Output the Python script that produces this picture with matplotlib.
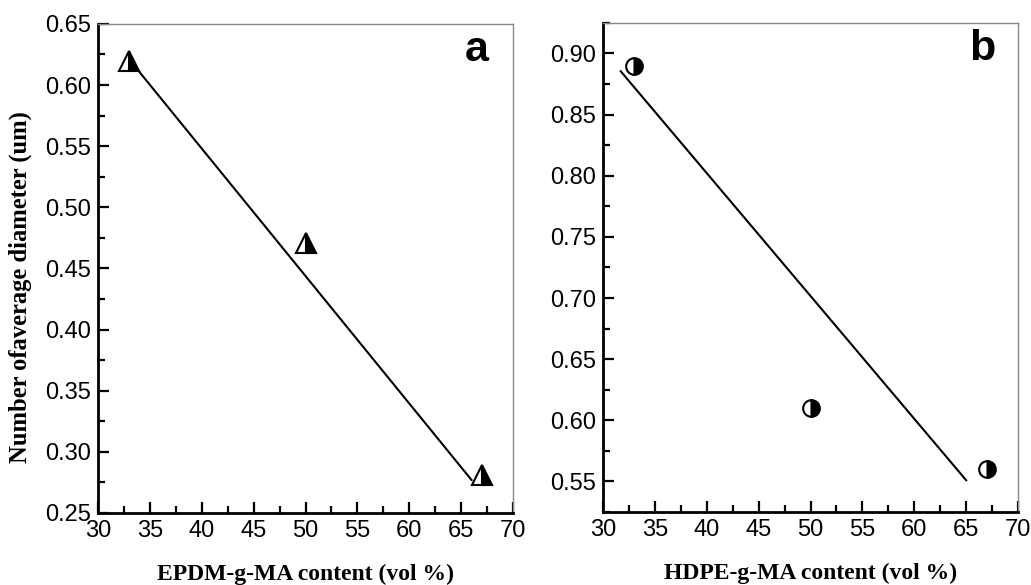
"""Two-panel scatter + fit line: average particle diameter vs compatibilizer content."""

import matplotlib.pyplot as plt
from matplotlib.ticker import MultipleLocator

# Panel a: EPDM-g-MA
epdm_x = [33, 50, 67]
epdm_y = [0.62, 0.471, 0.281]
epdm_fit_x = [33, 66]
epdm_fit_y = [0.621, 0.277]

# Panel b: HDPE-g-MA
hdpe_x = [33, 50, 67]
hdpe_y = [0.89, 0.61, 0.56]
hdpe_fit_x = [31.7, 65]
hdpe_fit_y = [0.8855, 0.551]

tick_font = "Liberation Sans"
label_font = "Liberation Serif"

fig = plt.figure(figsize=(10.31, 5.85), dpi=100)
ax_a = fig.add_axes([0.0951, 0.1231, 0.4025, 0.836])
ax_b = fig.add_axes([0.5849, 0.1248, 0.4025, 0.836])


def style_axes(ax, ylim, letter):
    ax.set_xlim(30, 70)
    ax.set_ylim(*ylim)
    ax.xaxis.set_major_locator(MultipleLocator(5))
    ax.xaxis.set_minor_locator(MultipleLocator(2.5))
    ax.yaxis.set_major_locator(MultipleLocator(0.05))
    ax.yaxis.set_minor_locator(MultipleLocator(0.025))
    ax.tick_params(which="both", direction="in", top=False, right=False,
                   width=1.6, labelsize=17, pad=5)
    ax.tick_params(which="major", length=8)
    ax.tick_params(which="minor", length=5)
    for lbl in ax.get_xticklabels() + ax.get_yticklabels():
        lbl.set_fontfamily(tick_font)
    ax.yaxis.set_major_formatter(plt.FuncFormatter(lambda v, p: f"{v:.2f}"))
    for side in ("left", "bottom"):
        ax.spines[side].set_linewidth(2)
        ax.spines[side].set_color("black")
    for side in ("top", "right"):
        ax.spines[side].set_linewidth(1)
        ax.spines[side].set_color("#888888")
    ax.text(0.913, 0.947, letter, transform=ax.transAxes, ha="center",
            va="center", fontsize=31, fontweight="bold", family=tick_font)


# panel a
ax_a.plot(epdm_fit_x, epdm_fit_y, color="black", lw=1.5)
ax_a.plot(epdm_x, epdm_y, linestyle="none", marker="^", markersize=14,
          fillstyle="right", markerfacecolor="black",
          markerfacecoloralt="white", markeredgecolor="black",
          markeredgewidth=1.5)
style_axes(ax_a, (0.25, 0.65), "a")
ax_a.set_xlabel("EPDM-g-MA content (vol %)", family=label_font,
                fontweight="bold", fontsize=17, labelpad=16)
ax_a.set_ylabel("Number ofaverage diameter (um)", family=label_font,
                fontweight="bold", fontsize=17.7)
ax_a.yaxis.set_label_coords(-0.159, 0.462)

# panel b
ax_b.plot(hdpe_fit_x, hdpe_fit_y, color="black", lw=1.5)
ax_b.plot(hdpe_x, hdpe_y, linestyle="none", marker="o", markersize=12,
          fillstyle="right", markerfacecolor="black",
          markerfacecoloralt="white", markeredgecolor="black",
          markeredgewidth=1.5)
style_axes(ax_b, (0.525, 0.925), "b")
ax_b.set_xlabel("HDPE-g-MA content (vol %)", family=label_font,
                fontweight="bold", fontsize=17, labelpad=16)

fig.savefig("out.png", dpi=100)
